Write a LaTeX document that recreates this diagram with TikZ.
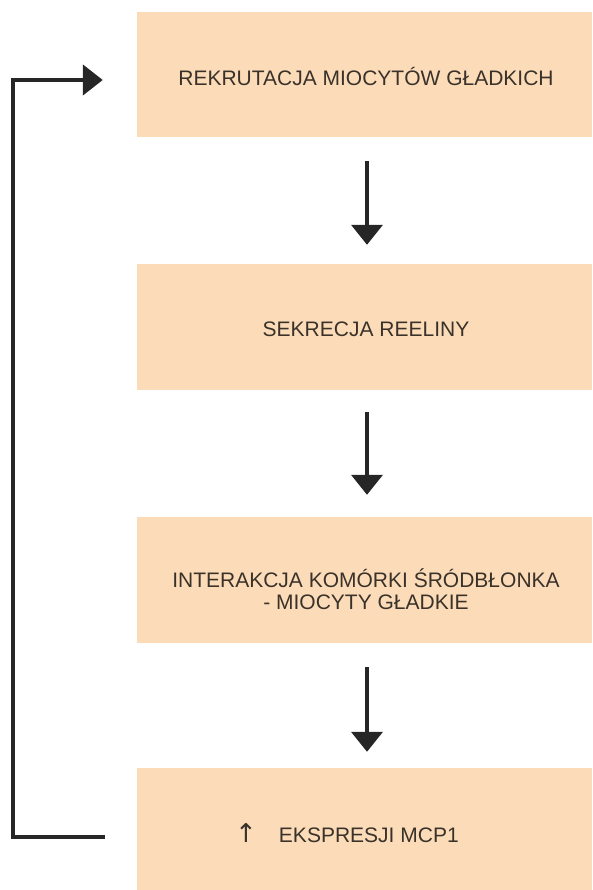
\documentclass[tikz,border=0pt]{standalone}
\usepackage{fontspec}
\setmainfont{Liberation Sans}
\newfontfamily\symfont{DejaVu Sans}
\usetikzlibrary{arrows.meta}
\definecolor{peach}{RGB}{252,220,184}
\definecolor{txt}{RGB}{58,50,42}
\definecolor{arr}{RGB}{38,38,38}
\begin{document}
\begin{tikzpicture}[x=1pt,y=-1pt,
  box/.style={rectangle,fill=peach,draw=none,minimum width=455pt,inner sep=0pt},
  lbl/.style={font=\fontsize{21}{22}\selectfont,text=txt,align=center,inner sep=0pt},
  flow/.style={draw=arr,line width=4pt,-{Triangle[width=31pt,length=20pt]}},
  back/.style={draw=arr,line width=4.5pt,-{Triangle[width=30pt,length=20pt]}}]
\useasboundingbox (0,0) rectangle (592,890);
\node[box,minimum height=125pt] (b1) at (364.5,74.5) {};
\node[box,minimum height=126pt] (b2) at (364.5,327) {};
\node[box,minimum height=126pt] (b3) at (364.5,580) {};
\node[box,minimum height=126pt] (b4) at (364.5,831) {};
\node[lbl] (t1) at (366,77) {REKRUTACJA MIOCYTÓW GŁADKICH};
\node[lbl] (t2) at (366,329) {SEKRECJA REELINY};
\node[lbl] (t3) at (366,589) {INTERAKCJA KOMÓRKI ŚRÓDBŁONKA\\- MIOCYTY GŁADKIE};
\node[lbl,anchor=west] (t4) at (235,833) {{\symfont\fontsize{26}{22}\selectfont ↑}\hspace{22pt}EKSPRESJI MCP1};
\draw[flow] ([xshift=2.5pt,yshift=-24pt]b1.south) -- ([xshift=2.5pt,yshift=19pt]b2.north);
\draw[flow] ([xshift=2.5pt,yshift=-22pt]b2.south) -- ([xshift=2.5pt,yshift=22pt]b3.north);
\draw[flow] ([xshift=2.5pt,yshift=-24pt]b3.south) -- ([xshift=2.5pt,yshift=16pt]b4.north);
\coordinate (s) at ([xshift=-32pt,yshift=-6pt]b4.west);
\coordinate (e) at ([xshift=-34pt,yshift=-5.5pt]b1.west);
\draw[back] (s) -- (13,837) -- (13,80) -- (e);
\end{tikzpicture}
\end{document}
